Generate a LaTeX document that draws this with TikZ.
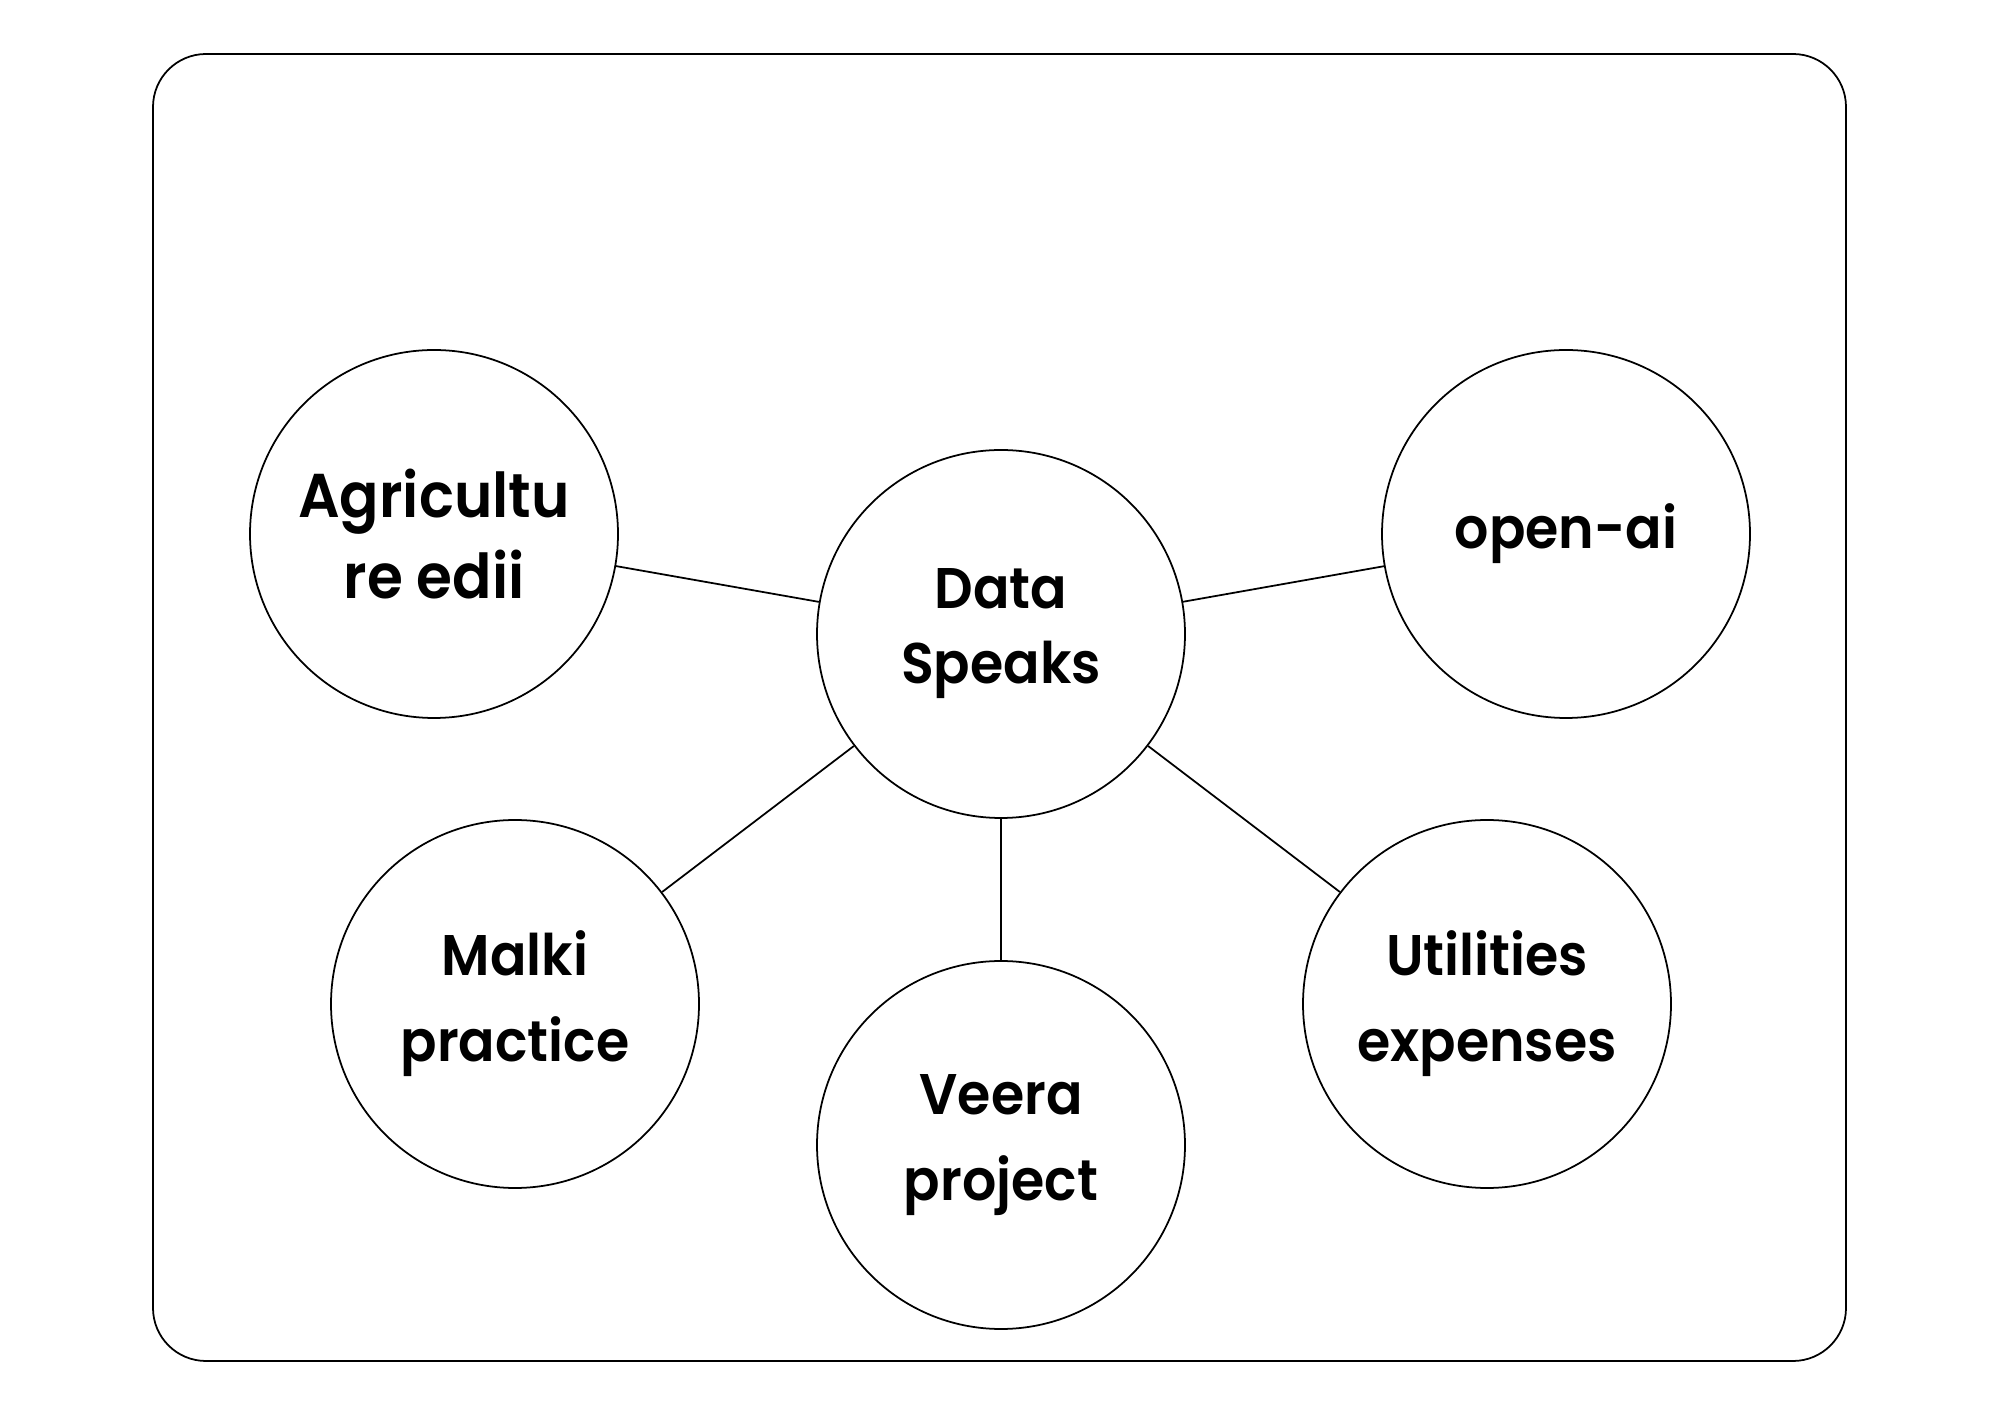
\documentclass[tikz,border=0pt]{standalone}
\usepackage{fontspec}
\setmainfont{Poppins}[BoldFont={* SemiBold},BoldFeatures={FakeStretch=0.94}]
\usetikzlibrary{calc}

\begin{document}
\begin{tikzpicture}[bubble/.style={circle,draw,line width=0.5pt,minimum size=3.68cm,inner sep=0pt,align=center,font=\bfseries\fontsize{16.3}{24.5}\selectfont}]
\useasboundingbox (0,0) rectangle (20,14.14);
\draw[line width=0.5pt,rounded corners=0.53cm] (1.53,0.53) rectangle (18.46,13.60);
\node[bubble,font=\bfseries\fontsize{16.3}{21.3}\selectfont] (hub) at (10.01,7.80) {Data\\Speaks};
\node[bubble,font=\bfseries\fontsize{17.6}{23.3}\selectfont] (agri) at (4.34,8.80) {Agricultu\\re edii};
\node[bubble] (openai) at (15.66,8.80) {open-ai};
\node[bubble] (malki) at (5.15,4.10) {Malki\\practice};
\node[bubble] (veera) at (10.01,2.69) {Veera\\project};
\node[bubble] (util) at (14.87,4.10) {Utilities\\expenses};
\draw[line width=0.5pt] (hub) -- (agri);
\draw[line width=0.5pt] (hub) -- (openai);
\draw[line width=0.5pt] (hub) -- (malki);
\draw[line width=0.5pt] (hub) -- (veera);
\draw[line width=0.5pt] (hub) -- (util);
\end{tikzpicture}
\end{document}
